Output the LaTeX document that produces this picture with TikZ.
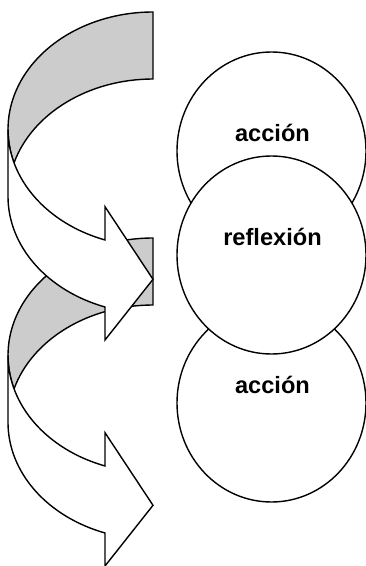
\documentclass[tikz,border=0pt]{standalone}
\usepackage{fontspec}
\setmainfont{Liberation Sans}
\usetikzlibrary{shapes.geometric}
\definecolor{tailgray}{RGB}{204,204,204}
\tikzset{
  outl/.style={draw=black, line width=1.4pt, line join=miter},
  circ/.style={ellipse, draw=black, fill=white, line width=1.4pt,
    minimum width=189pt, minimum height=198pt, inner sep=0pt},
  txt/.style={font=\bfseries\fontsize{23.6}{28}\selectfont, text=black,
    inner sep=0pt, anchor=base},
  curvedarrow/.pic={
    % back (tail) band
    \path[outl, fill=tailgray] (153,554)
      arc[start angle=90, end angle=196.6, x radius=145, y radius=117.3]
      arc[start angle=163.4, end angle=90, x radius=145, y radius=117.3]
      -- cycle;
    % front band with arrowhead
    \path[outl, fill=white] (8,436.7)
      arc[start angle=180, end angle=250.67, x radius=145, y radius=117.3]
      -- (105,359.3) -- (153,286.7) -- (105,226) -- (105,259.0)
      arc[start angle=250.67, end angle=180, x radius=145, y radius=117.3]
      -- cycle;
  }
}
\begin{document}
\begin{tikzpicture}[x=1pt,y=1pt]
  \useasboundingbox (0,0) rectangle (366,566);
  \fill[white] (0,0) rectangle (366,566);
  % arrows: lower first, upper on top
  \pic (arrow2) at (0,-226) {curvedarrow};
  \pic (arrow1) at (0,0) {curvedarrow};
  % circles
  \node[circ] (c1) at (271.5,415) {};
  \node[circ] (c3) at (271.5,163) {};
  \node[circ] (c2) at (271.5,311) {};
  % labels
  \node[txt] (l1) at ([shift={(1,9.3)}]c1.center) {acción};
  \node[txt] (l2) at ([shift={(1,9.3)}]c2.center) {reflexión};
  \node[txt] (l3) at ([shift={(1,9.3)}]c3.center) {acción};
\end{tikzpicture}
\end{document}
